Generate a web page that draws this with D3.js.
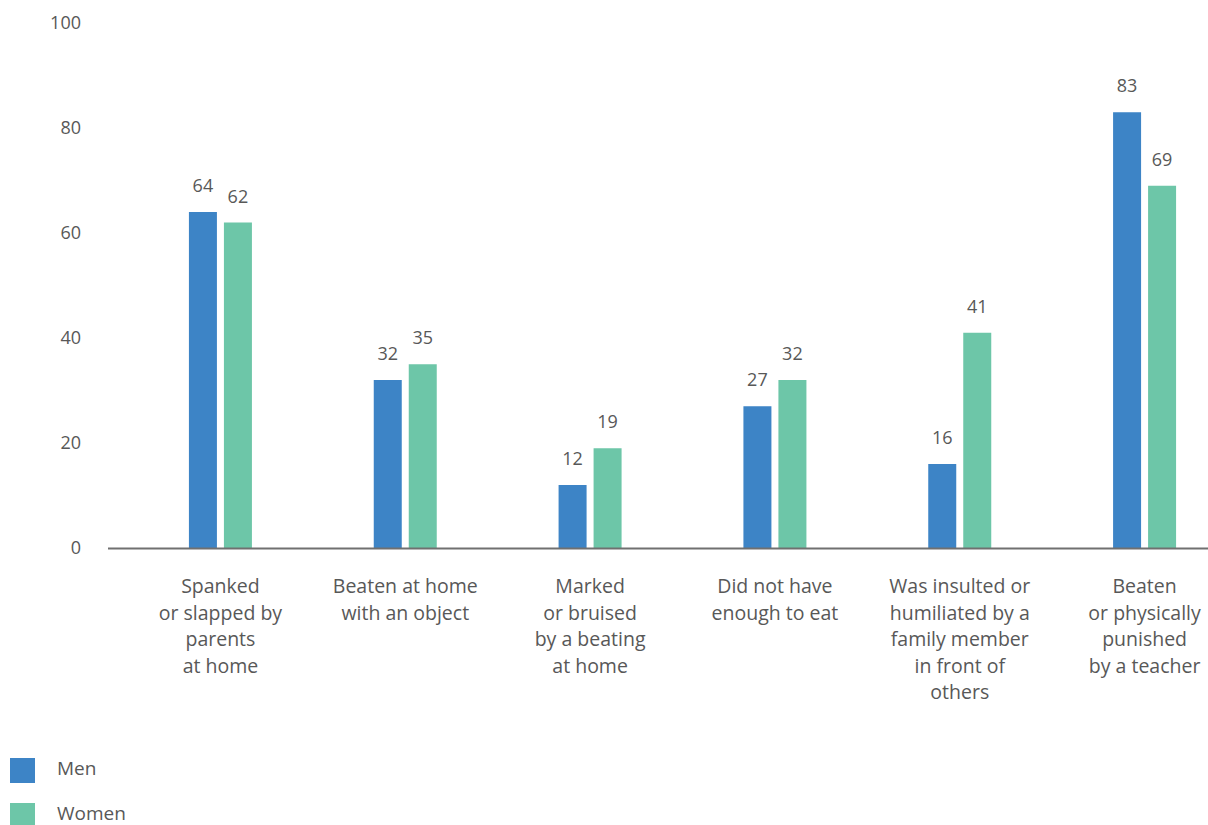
<!DOCTYPE html>
<html><head><meta charset="utf-8">
<script src="https://cdn.jsdelivr.net/npm/d3@7"></script>
<style>html,body{margin:0;padding:0;background:#fff;}svg{display:block;}</style>
</head><body>
<svg id="chart" width="1208" height="825"></svg>
<script>
const categories = [
  ["Spanked","or slapped by","parents","at home"],
  ["Beaten at home","with an object"],
  ["Marked","or bruised","by a beating","at home"],
  ["Did not have","enough to eat"],
  ["Was insulted or","humiliated by a","family member","in front of","others"],
  ["Beaten","or physically","punished","by a teacher"]
];
const seriesNames = ["Men","Women"];
const men = [64,32,12,27,16,83];
const women = [62,35,19,32,41,69];
const yTicks = [0,20,40,60,80,100];
const colors = ["#3d84c6","#6dc6a8"];
const textColor = "#585858";
const font = "'Open Sans', 'Noto Sans', sans-serif";

const svg = d3.select("#chart");
const x = d3.scaleBand().domain(d3.range(categories.length)).range([128, 1237]).paddingInner(0).paddingOuter(0);
const y = d3.scaleLinear().domain([0,100]).range([548, 23]);
const barW = 28, gap = 7;

// y tick labels
svg.append("g").selectAll("text").data(yTicks).join("text")
  .attr("x", 81).attr("y", d => y(d)).attr("dy", "0.35em")
  .attr("text-anchor","end").attr("fill",textColor)
  .style("font-family",font).style("font-size","18px")
  .text(d => d);

const series = [men, women];
series.forEach((vals, si) => {
  const off = si === 0 ? -(gap/2 + barW) : gap/2;
  const g = svg.append("g");
  g.selectAll("rect").data(vals).join("rect")
    .attr("x", (d,i) => x(i) + x.bandwidth()/2 + off)
    .attr("y", d => y(d))
    .attr("width", barW)
    .attr("height", d => y(0) - y(d))
    .attr("fill", colors[si]);
  g.selectAll("text").data(vals).join("text")
    .attr("x", (d,i) => x(i) + x.bandwidth()/2 + off + barW/2)
    .attr("y", d => y(d) - 20)
    .attr("text-anchor","middle").attr("fill",textColor)
    .style("font-family",font).style("font-size","18px")
    .text(d => d);
});

// baseline axis
svg.append("line").attr("x1",108).attr("x2",1208).attr("y1",y(0)+0.5).attr("y2",y(0)+0.5)
  .attr("stroke","#707070").attr("stroke-width",2);

// category labels
const cl = svg.append("g").selectAll("text").data(categories).join("text")
  .attr("text-anchor","middle").attr("fill",textColor)
  .style("font-family",font).style("font-size","19.5px")
  .attr("transform",(d,i)=>`translate(${x(i)+x.bandwidth()/2},593)`);
cl.selectAll("tspan").data(d=>d).join("tspan")
  .attr("x",0).attr("y",(d,i)=>i*26.5).text(d=>d);

// legend
const leg = svg.append("g").selectAll("g").data(seriesNames).join("g")
  .attr("transform",(d,i)=>`translate(10,${758 + i*45})`);
leg.append("rect").attr("width",25).attr("height",i=>25).attr("fill",(d,i)=>colors[i]);
leg.append("text").attr("x",47).attr("y",10).attr("dy","0.35em")
  .attr("fill",textColor).style("font-family",font).style("font-size","19px").text(d=>d);
</script>
</body></html>
